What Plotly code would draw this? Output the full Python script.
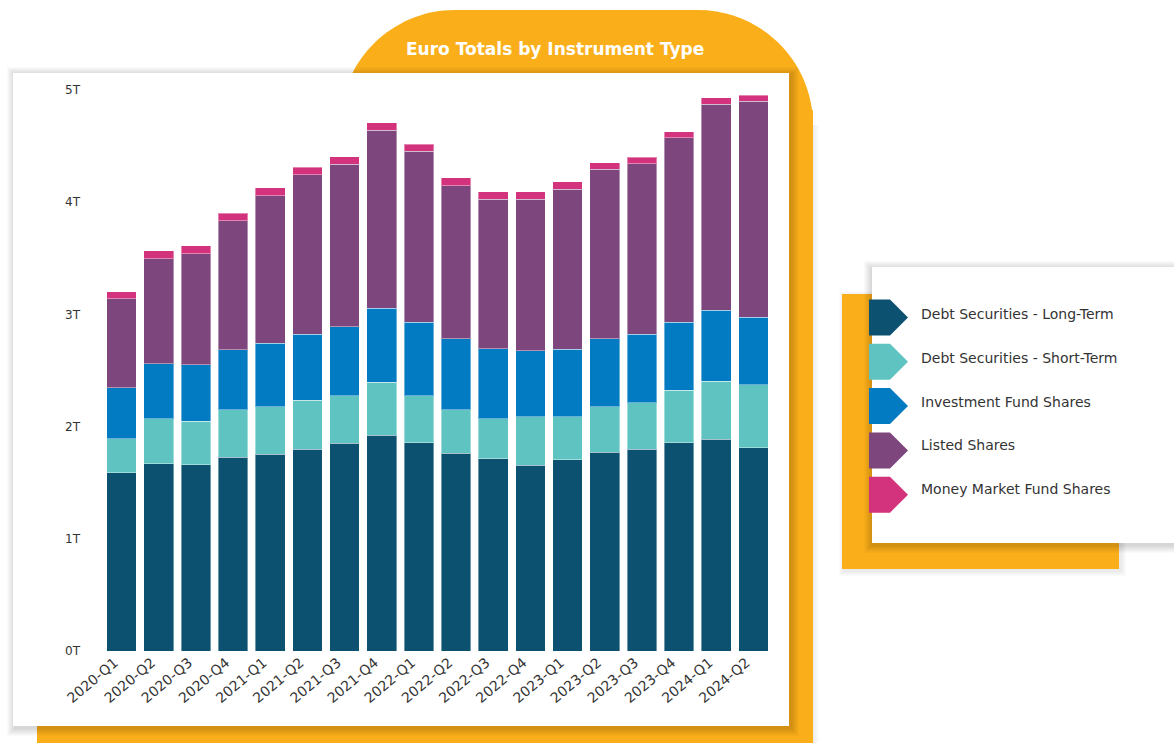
import plotly.graph_objects as go

# quarterly totals in trillions of euro
quarters = ["2020-Q1", "2020-Q2", "2020-Q3", "2020-Q4", "2021-Q1", "2021-Q2",
            "2021-Q3", "2021-Q4", "2022-Q1", "2022-Q2", "2022-Q3", "2022-Q4",
            "2023-Q1", "2023-Q2", "2023-Q3", "2023-Q4", "2024-Q1", "2024-Q2"]

debt_long = [1.589, 1.667, 1.661, 1.729, 1.753, 1.798, 1.851, 1.925, 1.857,
             1.762, 1.714, 1.655, 1.705, 1.771, 1.800, 1.854, 1.889, 1.812]
debt_short = [0.303, 0.401, 0.386, 0.422, 0.422, 0.436, 0.422, 0.470, 0.416,
              0.386, 0.356, 0.433, 0.383, 0.404, 0.413, 0.470, 0.517, 0.559]
inv_fund = [0.455, 0.493, 0.505, 0.535, 0.567, 0.591, 0.615, 0.662, 0.659,
            0.633, 0.624, 0.588, 0.601, 0.606, 0.612, 0.606, 0.633, 0.603]
listed = [0.793, 0.936, 0.989, 1.149, 1.316, 1.420, 1.450, 1.586, 1.522,
          1.366, 1.332, 1.350, 1.426, 1.512, 1.518, 1.645, 1.833, 1.928]
mmf = [0.062, 0.071, 0.069, 0.066, 0.069, 0.066, 0.065, 0.066, 0.062,
       0.069, 0.065, 0.068, 0.068, 0.059, 0.057, 0.051, 0.057, 0.051]

series_names = ["Debt Securities - Long-Term", "Debt Securities - Short-Term",
                "Investment Fund Shares", "Listed Shares", "Money Market Fund Shares"]
series_values = [debt_long, debt_short, inv_fund, listed, mmf]
colors = ["#0C5270", "#5FC4C1", "#027BC3", "#7D477D", "#D3337D"]

W, H = 1174, 743
ORANGE = "#FAAF1A"
FONT = "DejaVu Sans"


def px(x):
    return x / W


def py(y):
    return 1 - y / H


def rect(x0, y0, x1, y1, color):
    return dict(type="rect", xref="paper", yref="paper", layer="below",
                x0=px(x0), x1=px(x1), y0=py(y1), y1=py(y0),
                fillcolor=color, line_width=0)


def shadow(x0, y0, x1, y1, steps=7, dx=2, dy=3, alpha=0.018):
    out = []
    for k in range(steps, 0, -1):
        out.append(rect(x0 - k + dx, y0 - k + dy, x1 + k + dx, y1 + k + dy,
                        f"rgba(0,0,0,{alpha})"))
    return out


def tab_path(x0, y0, x1, y1, r):
    # rectangle with rounded top corners, pixel coords -> paper coords
    c = 0.5523 * r
    pts = [
        ("M", [(x0, y1)]),
        ("L", [(x0, y0 + r)]),
        ("C", [(x0, y0 + r - c), (x0 + r - c, y0), (x0 + r, y0)]),
        ("L", [(x1 - r, y0)]),
        ("C", [(x1 - r + c, y0), (x1, y0 + r - c), (x1, y0 + r)]),
        ("L", [(x1, y1)]),
    ]
    s = ""
    for cmd, p in pts:
        s += cmd + " " + " ".join(f"{px(a):.5f},{py(b):.5f}" for a, b in p) + " "
    return s + "Z"


shapes = []
# soft shadow on the right of the orange backdrop
for k in range(6, 0, -1):
    shapes.append(rect(800, 125, 813 + k, 760, "rgba(0,0,0,0.012)"))
# orange backdrop behind main panel
shapes.append(dict(type="path", xref="paper", yref="paper", layer="below",
                   path=tab_path(340, 10, 813, 760, 115), fillcolor=ORANGE, line_width=0))
shapes.append(rect(37, 110, 813, 760, ORANGE))
# main white panel
shapes += shadow(13, 73, 789, 726, steps=8, dx=2, dy=2, alpha=0.02)
shapes.append(rect(13, 73, 789, 726, "white"))

# legend panel
shapes += shadow(842, 294, 1119, 569, steps=5, dx=2, dy=2, alpha=0.015)
shapes.append(rect(842, 294, 1119, 569, ORANGE))
shapes += shadow(872, 267, 1190, 543, steps=8, dx=0, dy=2, alpha=0.02)
shapes.append(rect(872, 267, 1190, 543, "white"))

annotations = [dict(text="<b>Euro Totals by Instrument Type</b>", x=px(555), y=py(49),
                    xref="paper", yref="paper", yanchor="middle", showarrow=False,
                    font=dict(family=FONT, size=17, color="white"))]

# legend entries: arrow-shaped swatches with labels
for i, (name, col) in enumerate(zip(series_names, colors)):
    cy = 317.5 + i * 44.3
    top, bot = cy - 18, cy + 18
    path = (f"M {px(869):.5f},{py(top):.5f} L {px(890):.5f},{py(top):.5f} "
            f"L {px(908):.5f},{py(cy):.5f} L {px(890):.5f},{py(bot):.5f} "
            f"L {px(869):.5f},{py(bot):.5f} Z")
    shapes.append(dict(type="path", xref="paper", yref="paper", layer="below",
                       path=path, fillcolor=col, line_width=0))
    annotations.append(dict(text=name, x=px(919), y=py(314 + i * 43.8), xref="paper",
                            yref="paper", xanchor="left", yanchor="middle", showarrow=False,
                            font=dict(family=FONT, size=14, color="#333333")))

fig = go.Figure()
for name, vals, col in zip(series_names, series_values, colors):
    fig.add_trace(go.Bar(x=quarters, y=vals, name=name, marker_color=col,
                         marker_line=dict(color="rgba(255,255,255,0.4)", width=1)))

fig.update_layout(
    width=W, height=H,
    barmode="stack", bargap=0.2,
    showlegend=False,
    margin=dict(l=0, r=0, t=0, b=0),
    paper_bgcolor="white", plot_bgcolor="rgba(0,0,0,0)",
    font=dict(family=FONT, size=12, color="#333333"),
    shapes=shapes, annotations=annotations,
    xaxis=dict(domain=[px(103), px(772)], tickangle=-40, showgrid=False, automargin=False,
               showline=False, ticks="", tickfont=dict(size=14), ticklabelshift=-7),
    yaxis=dict(domain=[py(651), py(90)], range=[0, 5], dtick=1, ticksuffix="T",
               showgrid=False, zeroline=False, showline=False, ticks="", automargin=False,
               ticklabelstandoff=22, tickfont=dict(size=12)),
)

fig.write_html("out.html", config={"displayModeBar": False},
               post_script="document.body.style.margin='0';")
